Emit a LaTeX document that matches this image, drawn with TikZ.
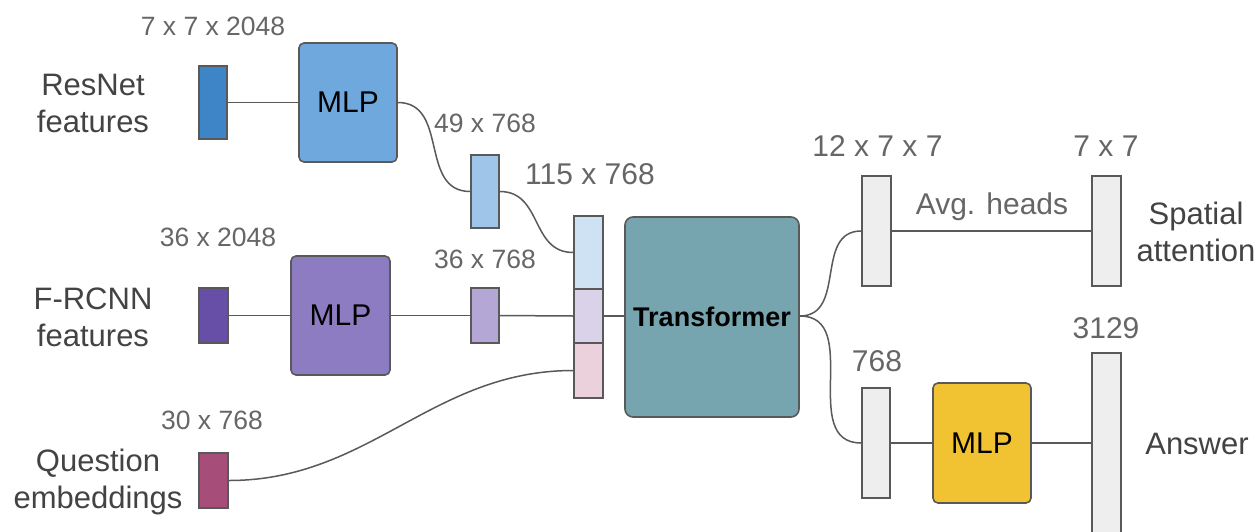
\documentclass[tikz,border=0pt]{standalone}
\usepackage{fontspec}
\setmainfont{Liberation Sans}
\definecolor{edge}{HTML}{595959}
\definecolor{dimgray}{HTML}{666666}
\definecolor{namegray}{HTML}{434343}
\definecolor{resnetc}{HTML}{3D85C6}
\definecolor{mlpa}{HTML}{6FA8DC}
\definecolor{tokA}{HTML}{9FC5E8}
\definecolor{frcnnc}{HTML}{674EA7}
\definecolor{mlpb}{HTML}{8E7CC3}
\definecolor{tokB}{HTML}{B4A7D6}
\definecolor{questc}{HTML}{A64D79}
\definecolor{stackA}{HTML}{CFE2F3}
\definecolor{stackB}{HTML}{D9D2E9}
\definecolor{stackC}{HTML}{EAD1DC}
\definecolor{transc}{HTML}{76A5AF}
\definecolor{outc}{HTML}{EEEEEE}
\definecolor{mlpc}{HTML}{F1C232}
\begin{document}
\begin{tikzpicture}[x=1pt,y=-1pt,
  bar/.style={draw=edge, line width=1.6pt, inner sep=0pt, minimum width=28pt},
  mlpbox/.style={draw=edge, line width=1.6pt, rounded corners=5pt, inner sep=0pt,
    font=\fontsize{30}{36}\selectfont, text=black},
  wire/.style={draw=edge, line width=1.5pt},
  curvy/.style={wire, out=0, in=180, looseness=1.15},
  dim/.style={text=dimgray, font=\fontsize{26.5}{31}\selectfont, inner sep=0pt},
  dimL/.style={text=dimgray, font=\fontsize{30}{36}\selectfont, inner sep=0pt},
  title/.style={text=namegray, align=center, font=\fontsize{31}{37}\selectfont, inner sep=0pt}]

\clip (0,0) rectangle (1259,531);
\fill[white] (0,0) rectangle (1259,531);

% input streams
\node[title] (tres) at (93,103) {ResNet\\features};
\node[title] (tfr) at (93,317) {F-RCNN\\features};
\node[title] (tq) at (98,482) {Question\\embeddings};

\node[bar, fill=resnetc, minimum height=73pt] (rb) at (213,102.5) {};
\node[bar, fill=frcnnc, minimum width=29pt, minimum height=55pt] (fb) at (213.5,315.5) {};
\node[bar, fill=questc, minimum width=29pt, minimum height=55pt] (qb) at (213.5,480.5) {};

\node[dim] (lres) at (213,26) {7 x 7 x 2048};
\node[dim] (lfr) at (218,237) {36 x 2048};
\node[dim] (lq) at (212,420) {30 x 768};

% projections
\node[mlpbox, fill=mlpa, minimum width=98pt, minimum height=119pt] (mlp1) at (348,102.5) {MLP};
\node[mlpbox, fill=mlpb, minimum width=99pt, minimum height=119pt] (mlp2) at (340.5,315.5) {MLP};

\node[bar, fill=tokA, minimum height=73pt] (b49) at (485,191.5) {};
\node[bar, fill=tokB, minimum height=55pt] (b36) at (485,315.5) {};
\node[dim] (l49) at (485,123) {49 x 768};
\node[dim] (l36) at (485,259) {36 x 768};

% concatenated sequence
\node[bar, fill=stackA, minimum width=29pt, minimum height=73pt] (s1) at (588.5,252.5) {};
\node[bar, fill=stackB, minimum width=29pt, minimum height=54pt] (s2) at (588.5,316) {};
\node[bar, fill=stackC, minimum width=29pt, minimum height=55pt] (s3) at (588.5,370.5) {};
\node[dimL] (l115) at (590,174) {115 x 768};

% transformer
\node[draw=edge, line width=1.6pt, rounded corners=8pt, fill=transc, inner sep=0pt,
  minimum width=174pt, minimum height=200pt, font=\fontsize{27}{31}\selectfont\bfseries]
  (tr) at (712,317) {Transformer};

% outputs
\node[bar, fill=outc, minimum width=29pt, minimum height=110pt] (a12) at (876.5,231) {};
\node[bar, fill=outc, minimum width=29pt, minimum height=110pt] (a7) at (1106.5,231) {};
\node[bar, fill=outc, minimum height=110pt] (v768) at (876,443) {};
\node[mlpbox, fill=mlpc, minimum width=98pt, minimum height=120pt] (mlp3) at (982,443) {MLP};
\node[bar, fill=outc, minimum width=29pt, minimum height=192pt] (ans) at (1106.5,449) {};

\node[dimL] (l12) at (877.5,146) {12 x 7 x 7};
\node[dimL] (l7) at (1106,146) {7 x 7};
\node[dimL] (lavg) at (992,207) {Avg. heads};
\node[dimL] (l768) at (877,361) {768};
\node[dimL] (l3129) at (1106,328) {3129};
\node[title] (tsp) at (1196,232) {Spatial\\attention};
\node[title] (tans) at (1197,444) {Answer};

% connectors
\draw[wire] (rb.east) -- (mlp1.west);
\draw[wire] (fb.east) -- (mlp2.west);
\draw[curvy] (mlp1.east) to (b49.west);
\draw[wire] (mlp2.east) -- (b36.west);
\draw[curvy] (b49.east) to (s1.west);
\draw[wire] (b36.east) -- (s2.west);
\draw[wire, out=0, in=180] (qb.east) to (s3.west);
\draw[wire] (s2.east) -- (s2.east -| tr.west);
\draw[curvy] (tr.east |- s2.east) to (a12.west);
\draw[curvy] (tr.east |- s2.east) to (v768.west);
\draw[wire] (a12.east) -- (a7.west);
\draw[wire] (v768.east) -- (mlp3.west);
\draw[wire] (mlp3.east) -- (mlp3.east -| ans.west);
\end{tikzpicture}
\end{document}
